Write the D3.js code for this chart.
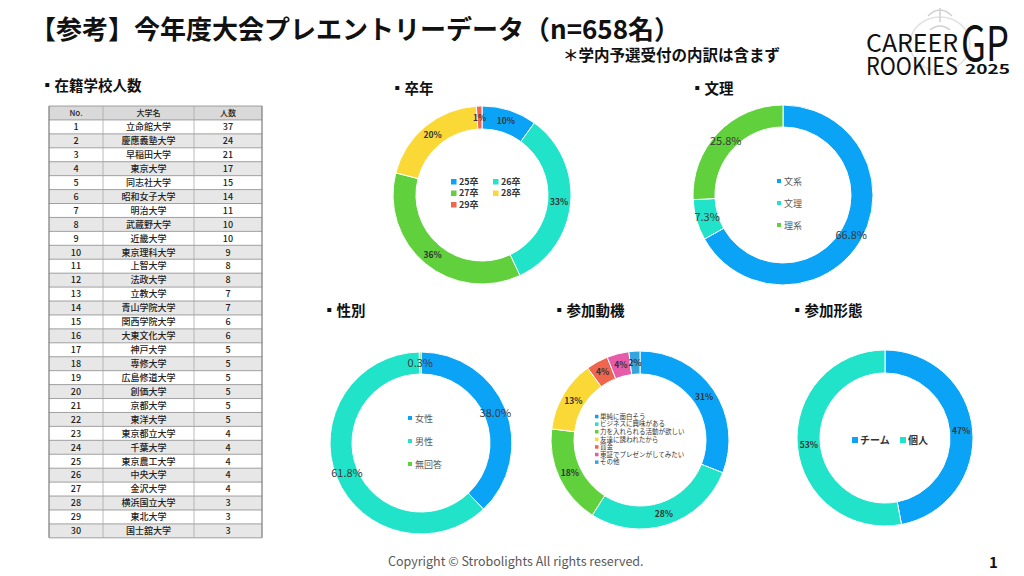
<!DOCTYPE html>
<html><head><meta charset="utf-8">
<script src="https://cdn.jsdelivr.net/npm/d3@7"></script>
<style>
html,body{margin:0;padding:0;background:#fff;}
svg{display:block;}
text{font-family:"Noto Sans CJK JP","Noto Sans",sans-serif;}
</style></head>
<body>
<svg id="c" width="1024" height="576"></svg>
<script>
// ---- data ----
const schoolNo = d3.range(1, 31);
const schoolNames = ["立命館大学","慶應義塾大学","早稲田大学","東京大学","同志社大学","昭和女子大学","明治大学","武蔵野大学","近畿大学","東京理科大学","上智大学","法政大学","立教大学","青山学院大学","関西学院大学","大東文化大学","神戸大学","専修大学","広島修道大学","創価大学","京都大学","東洋大学","東京都立大学","千葉大学","東京農工大学","中央大学","金沢大学","横浜国立大学","東北大学","国士舘大学"];
const schoolCounts = [37,24,21,17,15,14,11,10,10,9,8,8,7,7,6,6,5,5,5,5,5,5,4,4,4,4,4,3,3,3];

const gradLabels = ["25卒","26卒","27卒","28卒","29卒"];
const gradValues = [10,33,36,20,1];

const fieldLabels = ["文系","文理","理系"];
const fieldValues = [66.8,7.3,25.8];

const genderLabels = ["女性","男性","無回答"];
const genderValues = [38.0,61.8,0.3];

const motiveLabels = ["単純に面白そう","ビジネスに興味がある","力を入れられる活動が欲しい","友達に誘われたから","賞金","東証でプレゼンがしてみたい","その他"];
const motiveValues = [31,28,18,13,4,4,2];

const formLabels = ["チーム","個人"];
const formValues = [47,53];

// ---- colours ----
const C = {blue:"#0ba3f6", cyan:"#20e3c9", green:"#60d13c", yellow:"#fad936", red:"#f0654d", pink:"#e65ca8", blue2:"#33a6dd"};

const svg = d3.select("#c");

// title
svg.append("text").attr("x",30).attr("y",39).attr("font-size",26).attr("font-weight",700).attr("fill","#111")
  .text("【参考】今年度大会プレエントリーデータ（n=658名）");
svg.append("text").attr("x",563).attr("y",61).attr("font-size",15.5).attr("font-weight",700).attr("fill","#111")
  .text("＊学内予選受付の内訳は含まず");

// logo
const logo = svg.append("g");
logo.append("ellipse").attr("cx",940).attr("cy",44).attr("rx",30).attr("ry",27).attr("fill","none").attr("stroke","#e2e2e2").attr("stroke-width",1.5);
logo.append("path").attr("d","M928 16 Q940 4 952 16 M940 8 L940 22 M930 30 Q940 22 950 30").attr("fill","none").attr("stroke","#d0d0d0").attr("stroke-width",1.5);
logo.append("text").attr("x",866).attr("y",52).attr("font-family","Lato").attr("font-size",24).attr("fill","#111")
  .attr("textLength",92).attr("lengthAdjust","spacingAndGlyphs").text("CAREER");
logo.append("text").attr("x",866).attr("y",75).attr("font-family","Lato").attr("font-size",24).attr("fill","#111")
  .attr("textLength",92).attr("lengthAdjust","spacingAndGlyphs").text("ROOKIES");
logo.append("text").attr("x",961).attr("y",61).attr("font-family","Lato").attr("font-size",48).attr("fill","#111")
  .attr("textLength",48).attr("lengthAdjust","spacingAndGlyphs").text("GP");
logo.append("text").attr("x",965).attr("y",74).attr("font-family","Lato").attr("font-size",13).attr("font-weight",700).attr("fill","#111")
  .attr("textLength",45).attr("lengthAdjust","spacingAndGlyphs").text("2025");

// section titles
const sections = [["▪在籍学校人数",40,91],["▪卒年",390,94],["▪文理",690,94],["▪性別",322,316],["▪参加動機",552,316],["▪参加形態",790,316]];
sections.forEach(s=>svg.append("text").attr("x",s[1]).attr("y",s[2]).attr("font-size",14.5).attr("font-weight",700).attr("fill","#111").text(s[0]));

// ---- table ----
const tX = [49,103,194,262];
const tTop = 106, rowH = 13.93;
const rowY = d3.scaleLinear().domain([0,31]).range([tTop, tTop+31*rowH]);
const tbl = svg.append("g");
const header = ["No.","大学名","人数"];
const rows = schoolNo.map((n,i)=>[String(n), schoolNames[i], String(schoolCounts[i])]);
const allRows = [header].concat(rows);
allRows.forEach((r,i)=>{
  const shaded = (i===0) || (i%2===0);
  tbl.append("rect").attr("x",tX[0]).attr("y",rowY(i)).attr("width",tX[3]-tX[0]).attr("height",rowH)
    .attr("fill", i===0 ? "#d9d9d9" : (shaded ? "#e7e7e7" : "#fff"));
  r.forEach((v,j)=>{
    tbl.append("text").attr("x",(tX[j]+tX[j+1])/2).attr("y",rowY(i)+rowH/2+3.3).attr("text-anchor","middle")
      .attr("font-size",i===0?8:9).attr("font-weight",500).attr("fill","#222").text(v);
  });
});
for(let i=0;i<=31;i++){
  tbl.append("line").attr("x1",tX[0]).attr("x2",tX[3]).attr("y1",rowY(i)).attr("y2",rowY(i)).attr("stroke","#8a8a8a").attr("stroke-width",0.8);
}
tX.forEach((x,j)=>tbl.append("line").attr("x1",x).attr("x2",x).attr("y1",rowY(0)).attr("y2",rowY(31))
  .attr("stroke", (j===0||j===3)?"#7a7a7a":"#a8a8a8").attr("stroke-width", (j===0||j===3)?1.2:0.8));

// ---- donuts ----
function donut(cfg){
  const g = svg.append("g").attr("transform",`translate(${cfg.cx},${cfg.cy})`);
  const pie = d3.pie().sort(null).value(d=>d.v);
  const data = pie(cfg.labels.map((l,i)=>({l, v:cfg.values[i], c:cfg.colors[i]})));
  const arc = d3.arc().innerRadius(cfg.ri).outerRadius(cfg.ro);
  const lab = d3.arc().innerRadius((cfg.ri+cfg.ro)/2).outerRadius((cfg.ri+cfg.ro)/2);
  g.selectAll("path.s").data(data).join("path").attr("d",arc).attr("fill",d=>d.data.c)
    .attr("stroke","#fff").attr("stroke-width",1);
  g.selectAll("text.l").data(data).join("text")
    .attr("x",d=>lab.centroid(d)[0]).attr("y",d=>lab.centroid(d)[1]+cfg.lblSize*0.36)
    .attr("text-anchor","middle").attr("font-size",cfg.lblSize).attr("font-weight",cfg.lblWeight)
    .attr("font-family",cfg.lblFont).attr("fill",cfg.lblColor)
    .text(d=>cfg.fmt(d.data.v));
  return g;
}
const RO = 89, RI = 66;
const d1 = donut({cx:482,cy:195,ro:RO,ri:RI,labels:gradLabels,values:gradValues,colors:[C.blue,C.cyan,C.green,C.yellow,C.red],
  lblSize:8.5,lblWeight:700,lblFont:"Open Sans",lblColor:"#333",fmt:v=>v+"%"});
const d2 = donut({cx:783,cy:195,ro:90,ri:68,labels:fieldLabels,values:fieldValues,colors:[C.blue,C.cyan,C.green],
  lblSize:11,lblWeight:400,lblFont:"Liberation Sans",lblColor:"#3a3a3a",fmt:v=>v.toFixed(1)+"%"});
const d3g = donut({cx:421,cy:443,ro:91,ri:69,labels:genderLabels,values:genderValues,colors:[C.blue,C.cyan,C.green],
  lblSize:11,lblWeight:400,lblFont:"Liberation Sans",lblColor:"#3a3a3a",fmt:v=>v.toFixed(1)+"%"});
const d4 = donut({cx:640,cy:440,ro:RO,ri:RI,labels:motiveLabels,values:motiveValues,colors:[C.blue,C.cyan,C.green,C.yellow,C.red,C.pink,C.blue2],
  lblSize:8.5,lblWeight:700,lblFont:"Open Sans",lblColor:"#333",fmt:v=>v+"%"});
const d5 = donut({cx:885,cy:438,ro:88,ri:65,labels:formLabels,values:formValues,colors:[C.blue,C.cyan],
  lblSize:8.5,lblWeight:700,lblFont:"Open Sans",lblColor:"#333",fmt:v=>v+"%"});

// legends
gradLabels.forEach((l,i)=>{
  const col=i%2,row=Math.floor(i/2);
  const x=-31+col*42, y=-11+row*11.5;
  d1.append("rect").attr("x",x).attr("y",y-5).attr("width",5.5).attr("height",5.5).attr("fill",[C.blue,C.cyan,C.green,C.yellow,C.red][i]);
  d1.append("text").attr("x",x+8).attr("y",y+0.8).attr("font-size",9).attr("font-weight",700).attr("fill","#333").attr("font-family","Open Sans, Noto Sans CJK JP").text(l);
});
function vLegend(g,labels,colors,x,y0,step){
  labels.forEach((l,i)=>{
    const y=y0+i*step;
    g.append("rect").attr("x",x).attr("y",y-4).attr("width",4).attr("height",4).attr("fill",colors[i]);
    g.append("text").attr("x",x+7).attr("y",y+1.5).attr("font-size",9).attr("fill","#595959").text(l);
  });
}
vLegend(d2,fieldLabels,[C.blue,C.cyan,C.green],-6,-12,22);
vLegend(d3g,genderLabels,[C.blue,C.cyan,C.green],-13,-23,23);
motiveLabels.forEach((l,i)=>{
  const y=-22+i*7.6;
  d4.append("rect").attr("x",-45).attr("y",y-3.2).attr("width",3.5).attr("height",3.5).attr("fill",[C.blue,C.cyan,C.green,C.yellow,C.red,C.pink,C.blue2][i]);
  d4.append("text").attr("x",-40).attr("y",y+0.8).attr("font-size",6.5).attr("fill","#333").text(l);
});
formLabels.forEach((l,i)=>{
  const x=-33+i*48;
  d5.append("rect").attr("x",x).attr("y",-1).attr("width",6).attr("height",6).attr("fill",[C.blue,C.cyan][i]);
  d5.append("text").attr("x",x+8).attr("y",6).attr("font-size",10).attr("font-weight",700).attr("fill","#333").text(l);
});

// footer
svg.append("text").attr("x",388).attr("y",566).attr("font-family","Lato").attr("font-size",12.5).attr("fill","#595959")
  .text("Copyright © Strobolights All rights reserved.");
svg.append("text").attr("x",989).attr("y",568).attr("font-family","Liberation Sans").attr("font-size",15).attr("font-weight",700).attr("fill","#111").text("1");
</script>
</body></html>
